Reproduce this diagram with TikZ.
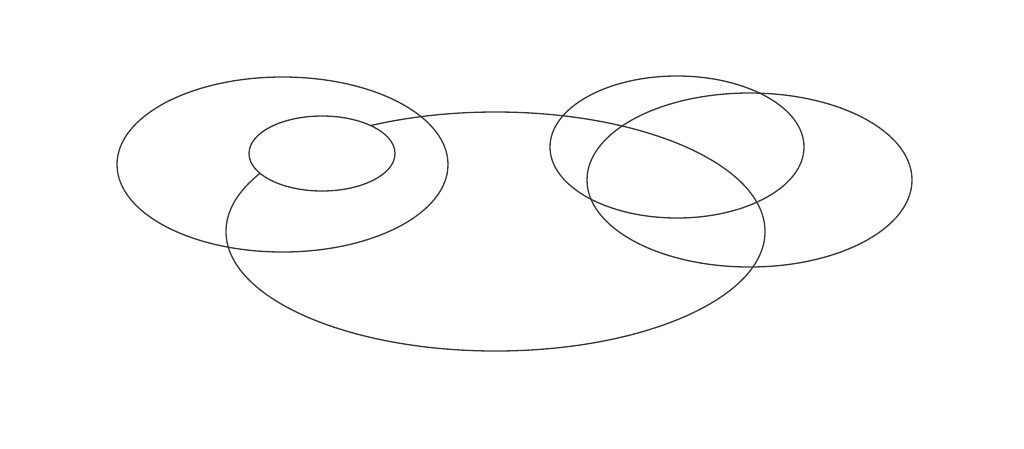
\documentclass[tikz,border=0pt]{standalone}
\begin{document}
\begin{tikzpicture}[x=1pt,y=-1pt,ring/.style={draw=black!80,line width=1.3pt}]
\useasboundingbox (0,0) rectangle (1024,448);
\path[ring] (282.5,164.5) ellipse [x radius=165.5,y radius=87.5];
\path[ring] (495.5,231.5) ellipse [x radius=269.5,y radius=119.5];
\path[ring,fill=white] (322,153.5) ellipse [x radius=73,y radius=37.5];
\path[ring] (677,147) ellipse [x radius=127,y radius=71];
\path[ring] (749.5,180) ellipse [x radius=162.5,y radius=87];
\end{tikzpicture}
\end{document}
